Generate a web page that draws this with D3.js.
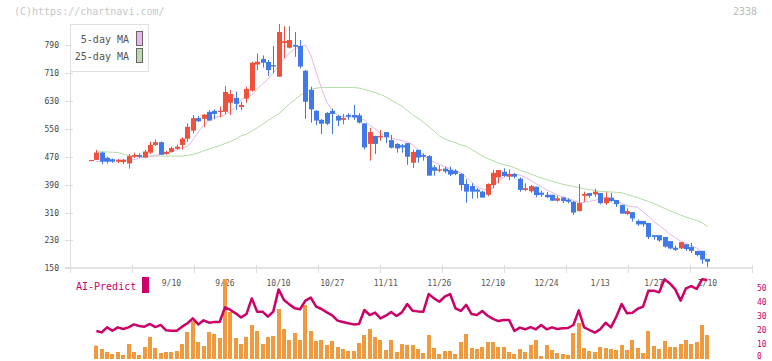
<!DOCTYPE html>
<html><head><meta charset="utf-8">
<script src="https://cdn.jsdelivr.net/npm/d3@7"></script>
<style>
html,body{margin:0;padding:0;background:#fff;}
svg{display:block;font-family:"DejaVu Sans Mono",monospace;}
</style></head><body>
<svg id="chart" width="772" height="361"></svg>
<script>
// ---- data (one entry per trading day, index 0..115) ----
const openP  = [461,461,482,467,463,456,455,451,470,475,468,482,504,512,478,484,493,504,522,545,581,579,599,602,599,599,625,639,613,637,660,735,751,742,733,700,797,783,791,788,717,662,602,576,596,602,587,576,590,590,589,566,507,530,526,541,518,507,503,509,453,490,475,472,440,430,436,432,430,421,392,386,376,370,361,389,411,427,413,421,407,375,371,384,367,361,361,344,353,347,341,314,358,366,362,366,337,353,346,332,306,311,286,286,280,245,245,240,228,209,207,219,211,200,200,177];
const highP  = [461,490,485,470,465,464,464,478,482,480,490,513,520,514,487,499,505,526,566,590,587,593,604,606,614,673,662,657,628,671,743,767,761,748,788,851,845,845,828,805,719,671,604,578,598,608,591,593,595,619,595,566,553,530,547,541,533,509,507,509,490,490,480,475,446,446,442,442,434,423,405,394,380,373,394,432,432,437,434,423,411,394,389,384,373,369,361,358,355,351,343,392,370,366,378,366,368,366,346,332,322,311,290,286,280,245,245,240,228,215,225,219,223,200,200,177];
const lowP   = [461,461,449,451,453,452,449,436,466,467,466,478,501,476,476,482,490,491,513,537,570,555,574,578,583,593,590,604,604,625,657,719,726,702,710,700,753,781,757,724,579,568,561,535,561,535,558,563,576,576,566,491,459,478,516,509,494,482,482,447,438,453,459,416,416,426,423,415,417,373,338,350,351,353,357,380,394,413,403,408,370,371,367,354,355,352,344,341,337,337,303,314,341,353,355,334,332,341,326,307,303,284,272,269,234,232,226,209,205,200,205,200,194,184,163,154];
const closeP = [461,482,456,456,456,461,461,472,475,470,485,504,512,476,484,495,499,522,556,581,572,591,574,593,602,656,650,622,619,665,740,743,740,719,729,828,802,805,786,729,628,606,574,565,565,593,574,581,585,583,568,497,541,507,530,526,496,494,497,470,484,468,470,416,430,434,428,419,421,389,370,370,370,353,392,424,432,415,421,413,375,380,386,360,361,354,344,351,343,341,310,337,363,358,370,337,353,343,334,307,314,293,276,276,240,240,230,212,207,203,225,205,200,188,175,169];
const ma5    = [null,456,458,459,461,461,461,461,462,467,469,471,474,477,479,485,490,495,500,518,541,560,574,583,586,591,600,613,633,642,647,665,679,693,710,731,751,768,779,787,791,762,713,667,627,603,589,585,585,585,582,576,560,550,538,530,524,520,516,512,505,491,475,462,455,448,442,436,431,423,412,398,383,378,375,383,401,411,416,419,418,411,403,393,385,375,368,360,355,350,345,339,339,342,345,349,353,349,345,336,330,327,325,312,300,284,273,261,248,238,228,221,215,208,196,188];
const ma25   = [null,485,484,484,483,482,478,473,472,472,472,472,472,472,472,472,472,472,474,477,481,487,492,497,502,508,514,521,530,535,544,553,563,574,584,593,607,622,633,646,656,664,667,669,669,669,669,669,669,669,667,663,659,654,649,642,633,624,616,603,590,581,570,557,544,530,521,515,510,504,500,491,482,472,465,459,452,447,444,439,432,426,421,415,409,405,400,396,391,388,385,382,378,376,373,371,370,369,368,367,362,357,353,347,342,336,329,322,315,309,303,297,292,287,281,270];
const volume = [null,40,30,21,15,21,12,45,21,12,36,66,33,18,21,21,24,45,81,114,51,39,81,75,63,240,141,63,45,66,102,84,45,66,69,150,90,57,78,57,162,84,54,57,42,54,36,30,24,24,48,72,90,66,57,27,57,21,45,42,42,30,18,72,33,15,24,24,15,51,75,33,30,36,51,51,36,36,21,15,30,21,42,57,9,42,27,18,15,12,78,108,33,24,21,36,33,30,27,42,27,57,33,18,84,39,30,54,36,36,45,57,45,51,102,72];
const aiPredict = [null,19.3,18.3,21.9,19.5,21.9,20.7,21.9,24.0,22.9,22.4,24.3,22.1,23.6,19.8,19.5,19.5,22.4,24.8,28.3,24.0,26.9,25.2,25.7,25.7,36.2,34.3,31.9,29.0,31.4,42.6,33.1,33.1,29.5,33.1,49.0,41.4,38.3,35.5,34.8,41.0,43.1,36.7,35.0,32.6,30.5,26.7,25.7,24.8,24.0,24.3,34.3,30.7,32.4,28.3,30.2,32.9,30.0,32.6,38.6,33.8,33.3,33.1,45.7,42.6,40.2,43.8,45.7,35.5,33.6,37.9,31.4,30.7,33.6,30.2,27.9,26.4,27.1,27.1,19.3,21.7,20.5,22.1,20.5,23.6,20.5,21.9,20.7,21.2,21.4,23.6,34.0,21.9,20.0,18.1,20.5,25.2,21.9,29.5,38.6,31.9,32.4,35.2,36.7,48.1,48.1,46.9,56.2,53.3,49.0,41.0,49.8,51.4,49.3,56.2,55.7];
const dateLabels = ["9/10","9/26","10/10","10/27","11/11","11/26","12/10","12/24","1/13","1/27","2/10"];
const dateLabelIndex = [15,25,35,45,55,65,75,85,95,105,115];
const priceTicks = [150,230,310,390,470,550,630,710,790];
const aiTicks = [0,10,20,30,40,50];
const legendNames = ["5-day MA","25-day MA"];
const ticker = "2338";

// ---- drawing ----
const svg = d3.select("#chart");
const UP = "#f0503c", DOWN = "#3f7ae8", PINK = "#cc0066";
const idx = d3.range(openP.length);
const x = d3.scaleLinear().domain([0, 115]).range([91, 707.4]);
const y = d3.scaleLinear().domain([150, 790]).range([268.3, 45.3]);
const yAI = d3.scaleLinear().domain([0, 50]).range([358, 288]);
const yVol = d3.scaleLinear().domain([0, d3.max(volume)]).range([359, 279]);
const grid = d3.scaleLinear().domain([0, 11]).range([70, 752]);

// copyright + ticker
svg.append("text").attr("x", 14).attr("y", 15).attr("font-size", 10).attr("fill", "#c8c8c8").text("(C)https://chartnavi.com/");
svg.append("text").attr("x", 757).attr("y", 15).attr("font-size", 10).attr("fill", "#bbb").attr("text-anchor", "end").text(ticker);

// axes lines
svg.append("line").attr("x1", 70.5).attr("x2", 70.5).attr("y1", 24).attr("y2", 268).attr("stroke", "#ddd");
svg.append("line").attr("x1", 65).attr("x2", 753).attr("y1", 268).attr("y2", 268).attr("stroke", "#e3e3e3").attr("stroke-width", 2);
svg.append("g").selectAll("line").data(d3.range(0, 12)).join("line")
  .attr("x1", d => Math.round(grid(d)) + 0.5).attr("x2", d => Math.round(grid(d)) + 0.5)
  .attr("y1", 265).attr("y2", 273).attr("stroke", "#ddd");

// y axis
const yAxis = d3.axisLeft(y).tickValues(priceTicks).tickSize(0).tickPadding(11);
const gy = svg.append("g").attr("transform", "translate(70,0)").call(yAxis);
gy.select(".domain").remove();
gy.selectAll("text").attr("font-family", "DejaVu Sans Mono").attr("font-size", 8).attr("fill", "#444");
svg.append("g").selectAll("line").data(priceTicks).join("line")
  .attr("x1", 65).attr("x2", 73).attr("y1", d => Math.round(y(d)) + 0.5).attr("y2", d => Math.round(y(d)) + 0.5)
  .attr("stroke", "#ddd");

// moving averages
const lineOf = (arr, sc) => d3.line().defined((d, i) => arr[i] != null).x((d, i) => x(i)).y((d, i) => sc(arr[i]));
svg.append("path").datum(idx).attr("d", lineOf(ma25, y)).attr("fill", "none").attr("stroke", "#b4dca4").attr("stroke-width", 1);
svg.append("path").datum(idx).attr("d", lineOf(ma5, y)).attr("fill", "none").attr("stroke", "#e8b4ea").attr("stroke-width", 1);

// candles
const cg = svg.append("g");
idx.forEach(i => {
  const o = openP[i], c = closeP[i], h = highP[i], l = lowP[i];
  const col = c > o ? UP : (c < o ? DOWN : (i > 0 && c < closeP[i-1] ? DOWN : UP));
  const cx = Math.round(x(i));
  cg.append("line").attr("x1", cx + 0.5).attr("x2", cx + 0.5).attr("y1", y(h)).attr("y2", y(l)).attr("stroke", col).attr("stroke-width", 1);
  const top = y(Math.max(o, c)), bot = y(Math.min(o, c));
  cg.append("rect").attr("x", cx - 2).attr("width", 5).attr("y", top).attr("height", Math.max(1.2, bot - top)).attr("fill", col);
});

// legend
const lg = svg.append("g");
lg.append("rect").attr("x", 70.5).attr("y", 24.5).attr("width", 78).attr("height", 47).attr("fill", "#fff").attr("stroke", "#e0e0e0");
const legendColors = ["#e8b8ea", "#b8dcae"];
legendNames.forEach((n, k) => {
  lg.append("text").attr("x", 129).attr("y", 43 + k * 17).attr("text-anchor", "end").attr("font-size", 10).attr("fill", "#555").text(n);
  lg.append("rect").attr("x", 136.5).attr("y", 31.5 + k * 17).attr("width", 6).attr("height", 14).attr("fill", legendColors[k]).attr("stroke", "#666");
});

// date labels
svg.append("g").selectAll("text").data(dateLabels).join("text")
  .attr("x", (d, k) => x(dateLabelIndex[k])).attr("y", 283).attr("dy", "0.32em")
  .attr("text-anchor", "middle").attr("font-size", 8).attr("fill", "#555").text(d => d);

// volume bars
svg.append("g").selectAll("rect").data(idx.filter(i => volume[i] != null)).join("rect")
  .attr("x", i => Math.round(x(i)) - 2).attr("width", 4)
  .attr("y", i => yVol(volume[i])).attr("height", i => yVol(0) - yVol(volume[i]))
  .attr("fill", "#f09a40");

// AI predict line
svg.append("path").datum(idx).attr("d", lineOf(aiPredict, yAI)).attr("fill", "none")
  .attr("stroke", PINK).attr("stroke-width", 2.5).attr("stroke-linejoin", "round");

// AI labels
svg.append("text").attr("x", 76).attr("y", 290).attr("font-size", 10).attr("fill", PINK).text("AI-Predict");
svg.append("rect").attr("x", 142).attr("y", 277).attr("width", 7).attr("height", 16).attr("fill", PINK);
svg.append("g").selectAll("text").data(aiTicks).join("text")
  .attr("x", 757).attr("y", d => Math.min(yAI(d) + 2.6, 358.5)).attr("font-size", 8).attr("fill", PINK).text(d => d);
</script>
</body></html>
